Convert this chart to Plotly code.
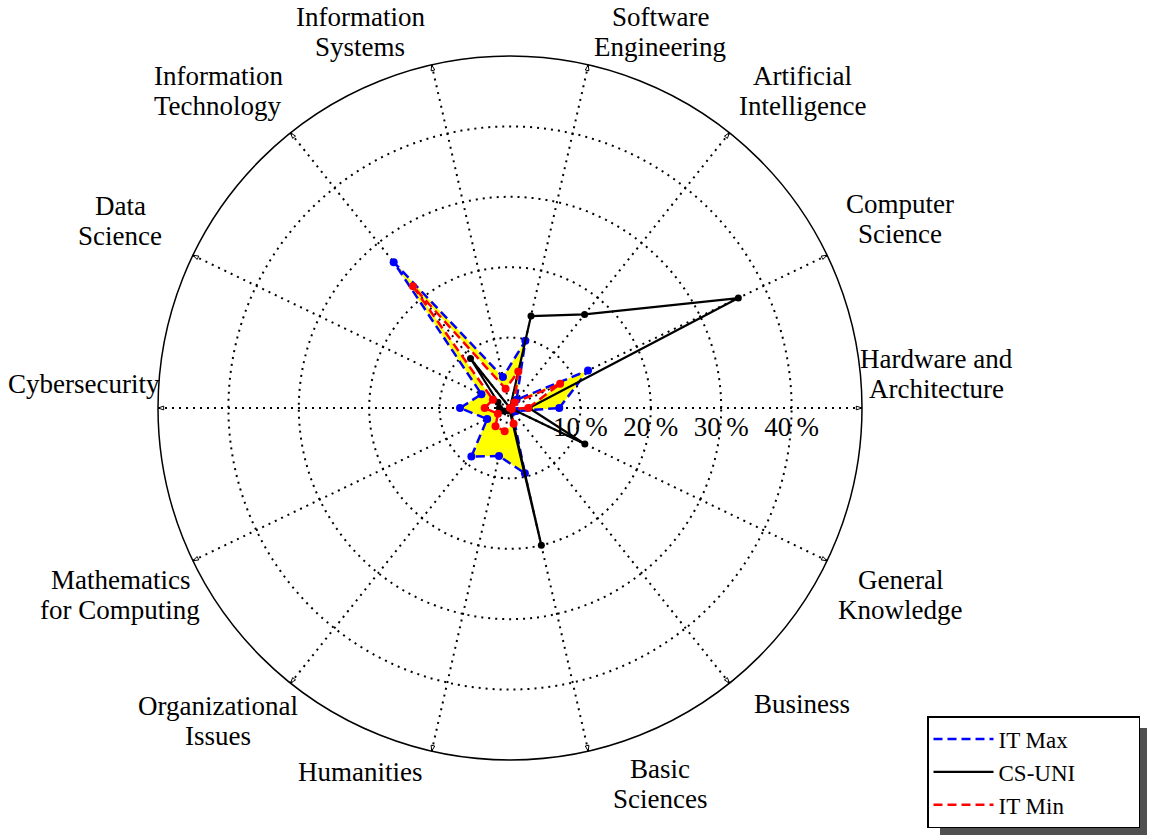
import plotly.graph_objects as go

# curriculum areas, counter-clockwise from the right
areas = ["Hardware and\nArchitecture", "Computer\nScience", "Artificial\nIntelligence",
         "Software\nEngineering", "Information\nSystems", "Information\nTechnology",
         "Data\nScience", "Cybersecurity", "Mathematics\nfor Computing",
         "Organizational\nIssues", "Humanities", "Basic\nSciences", "Business",
         "General\nKnowledge"]

# share of the curriculum, in %
it_max = [7.0, 12.3, 1.5, 9.8, 4.5, 26.5, 4.5, 7.1, 3.6, 8.8, 7.0, 9.5, 0.5, 1.0]
cs_uni = [2.7, 36.0, 17.0, 13.4, 0.0, 9.0, 1.9, 1.5, 1.0, 0.5, 0.3, 20.0, 0.0, 11.8]
it_min = [2.6, 7.9, 1.0, 5.3, 2.8, 22.1, 2.7, 3.6, 1.9, 3.3, 3.4, 2.3, 0.0, 0.3]

r_ticks = [10, 20, 30, 40]
r_tick_labels = ["10\u2009%", "20\u2009%", "30\u2009%", "40\u2009%"]
r_max = 50

# label centres, pixel offsets from the plot centre (right, up)
label_offsets = [(426, 34), (390, 189), (292, 317), (150, 376), (-150, 376),
                 (-292, 317), (-390, 187), (-426, 24), (-390, -187), (-292, -313),
                 (-150, -364), (150, -376), (292, -296), (390, -187)]

W, H = 1153, 836
CX, CY, R = 510, 408, 352
FONT = "Liberation Serif"
LABEL_SIZE = 27
PITCH = 30
LEGEND_PAD = "\u00a0" * 10   # widens the legend box to the original's size

keys = [a.replace("\n", " ") for a in areas]


def closed(vals):
    return vals + vals[:1]


fig = go.Figure()

# yellow band between IT Min and IT Max
ring_theta = keys + keys[:1] + keys[:1] + keys[::-1]
ring_r = it_max + it_max[:1] + it_min[:1] + it_min[::-1]
fig.add_trace(go.Scatterpolar(r=ring_r, theta=ring_theta, mode="lines",
                              fill="toself", fillcolor="#ffff00",
                              line=dict(width=0, color="#ffff00"),
                              showlegend=False, hoverinfo="skip"))

series = [("IT Max", it_max, "#0000ff", "9px,5px", 2.5, 8),
          ("CS-UNI", cs_uni, "#000000", "solid", 2.2, 7),
          ("IT Min", it_min, "#ff0000", "9px,5px", 2.5, 8)]

for name, vals, color, dash, lw, ms in series:
    fig.add_trace(go.Scatterpolar(r=closed(vals), theta=closed(keys), mode="lines",
                                  name=name + LEGEND_PAD,
                                  line=dict(color=color, width=lw, dash=dash)))
    fig.add_trace(go.Scatterpolar(r=vals, theta=keys, mode="markers",
                                  marker=dict(color=color, size=ms),
                                  showlegend=False))

# arrow heads at the end of each spoke
step = 360 / len(keys)
fig.add_trace(go.Scatterpolar(r=[r_max] * len(keys), theta=keys, mode="markers",
                              marker=dict(symbol="arrow-open", size=6, color="black",
                                          line=dict(width=1, color="black"),
                                          angle=[90 - i * step for i in range(len(keys))]),
                              showlegend=False, hoverinfo="skip", cliponaxis=False))

annotations = []
for text, (dx, dy) in zip(areas, label_offsets):
    lines = text.split("\n")
    top = dy + PITCH * (len(lines) - 1) / 2
    for j, line in enumerate(lines):
        annotations.append(dict(x=(CX + dx) / W, y=(H - CY + top - j * PITCH) / H,
                                xref="paper", yref="paper", text=line, showarrow=False,
                                xanchor="center", yanchor="middle",
                                font=dict(family=FONT, size=LABEL_SIZE, color="black")))

# legend box, in pixels, and its drop shadow
LEG_RIGHT, LEG_BOTTOM, SHADOW = 1140, 828, 7

fig.update_layout(
    width=W, height=H,
    margin=dict(l=0, r=0, t=0, b=0),
    paper_bgcolor="white",
    font=dict(family=FONT, size=26, color="black"),
    polar=dict(
        domain=dict(x=[(CX - R) / W, (CX + R) / W], y=[(H - CY - R) / H, (H - CY + R) / H]),
        bgcolor="white",
        angularaxis=dict(type="category", categoryarray=keys, direction="counterclockwise",
                         rotation=0, showline=True, linecolor="black", linewidth=1.5,
                         showgrid=True, gridcolor="black", gridwidth=1.5, griddash="2px,5px",
                         ticks="", showticklabels=False),
        radialaxis=dict(range=[0, r_max], tickvals=r_ticks, ticktext=r_tick_labels,
                        showline=False, ticks="", angle=0,
                        showgrid=True, gridcolor="black", gridwidth=1.5, griddash="2px,5px",
                        tickfont=dict(family=FONT, size=27, color="black")),
    ),
    legend=dict(x=LEG_RIGHT / W, y=(H - LEG_BOTTOM) / H, xanchor="right", yanchor="bottom",
                bgcolor="white", bordercolor="black", borderwidth=1.5,
                font=dict(family=FONT, size=23, color="black"), itemwidth=60),
    annotations=annotations,
    shapes=[dict(type="rect", xref="paper", yref="paper", layer="above",
                 x0=(LEG_RIGHT - 200) / W, x1=(LEG_RIGHT + SHADOW) / W,
                 y0=(H - LEG_BOTTOM - SHADOW) / H, y1=(H - LEG_BOTTOM + 100) / H,
                 fillcolor="#505050", line=dict(width=0))],
)

fig.write_html("out.html", config={"displayModeBar": False},
               post_script="document.body.style.margin='0';")
